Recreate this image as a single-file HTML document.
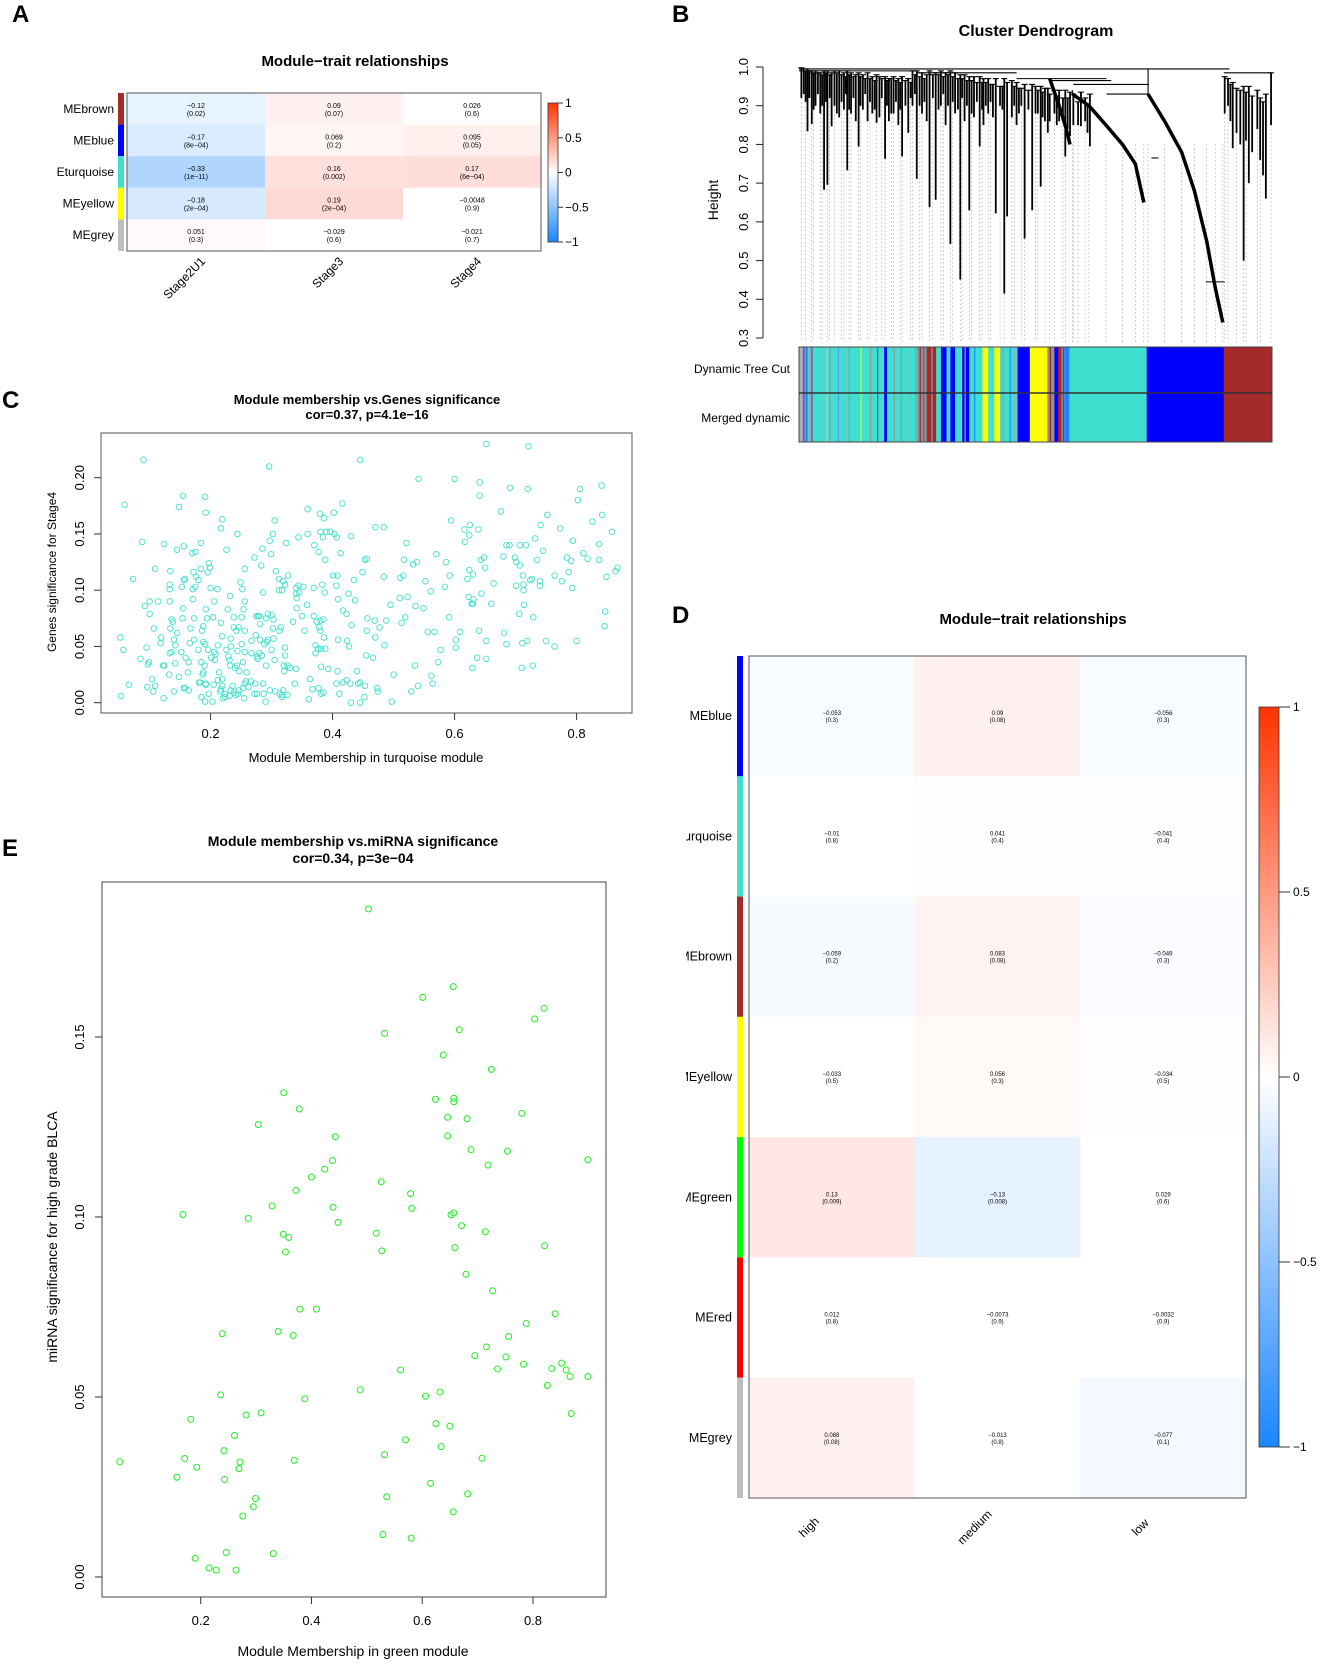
<!DOCTYPE html>
<html><head><meta charset="utf-8"><style>
html,body{margin:0;padding:0;background:#fff;}
svg{display:block;font-family:"Liberation Sans",Arial,sans-serif;}
</style></head><body>
<svg id="fig" xmlns="http://www.w3.org/2000/svg" width="1320" height="1664" viewBox="0 0 1320 1664">
<defs>
<linearGradient id="cbar" x1="0" y1="0" x2="0" y2="1">
<stop offset="0" stop-color="#ff3300"/><stop offset="0.5" stop-color="#ffffff"/><stop offset="1" stop-color="#1a86ff"/>
</linearGradient>
<clipPath id="clipA"><rect x="57" y="0" width="700" height="400"/></clipPath>
<clipPath id="clipD"><rect x="686" y="600" width="700" height="1000"/></clipPath>
</defs>
<g id="panelA"></g>
<g id="panelB"></g>
<g id="panelC"></g>
<g id="panelD"></g>
<g id="panelE"></g>
</svg>
<script>
// ---------- Panel A data ----------
const aRows = ["MEbrown","MEblue","MEturquoise","MEyellow","MEgrey"];
const aRowColors = ["#a52a2a","#0000ff","#40e0d0","#ffff00","#bebebe"];
const aCols = ["Stage2U1","Stage3","Stage4"];
const aVals = [[-0.12,0.09,0.026],[-0.17,0.069,0.095],[-0.33,0.16,0.17],[-0.18,0.19,-0.0048],[0.051,-0.029,-0.021]];
const aP = [["(0.02)","(0.07)","(0.6)"],["(8e-04)","(0.2)","(0.05)"],["(1e-11)","(0.002)","(6e-04)"],["(2e-04)","(2e-04)","(0.9)"],["(0.3)","(0.6)","(0.7)"]];
const cbTicks = [1,0.5,0,-0.5,-1];
// ---------- Panel D data ----------
const dRows = ["MEblue","MEturquoise","MEbrown","MEyellow","MEgreen","MEred","MEgrey"];
const dRowColors = ["#0000ff","#40e0d0","#a52a2a","#ffff00","#00ff00","#ff0000","#bebebe"];
const dCols = ["high","medium","low"];
const dVals = [[-0.053,0.09,-0.056],[-0.01,0.041,-0.041],[-0.059,0.083,-0.049],[-0.033,0.056,-0.034],[0.13,-0.13,0.029],[0.012,-0.0073,-0.0032],[0.088,-0.013,-0.077]];
const dP = [["(0.3)","(0.08)","(0.3)"],["(0.8)","(0.4)","(0.4)"],["(0.2)","(0.08)","(0.3)"],["(0.5)","(0.3)","(0.5)"],["(0.009)","(0.008)","(0.6)"],["(0.8)","(0.9)","(0.9)"],["(0.08)","(0.8)","(0.1)"]];
// ---------- Panel B data ----------
const bTicks = [0.3,0.4,0.5,0.6,0.7,0.8,0.9,1.0];
const branchPos = [0.005,0.018,0.027,0.035,0.045,0.053,0.060,0.069,0.075,0.085,0.095,0.102,0.11,0.12,0.126,0.135,0.145,0.155,0.164,0.17,0.182,0.19,0.2,0.21,0.218,0.231,0.24,0.249,0.26,0.27,0.276,0.289,0.3,0.31,0.32,0.33,0.341,0.35,0.36,0.37,0.382,0.39,0.40,0.416,0.434,0.44,0.45,0.46,0.477,0.493,0.5,0.511,0.52,0.526,0.54,0.55,0.563,0.573,0.58,0.596,0.605,0.615,0.907,0.917,0.94,0.951,0.969,0.987,0.998,
 0.010,0.014,0.022,0.031,0.040,0.049,0.057,0.065,0.080,0.090,0.099,0.106,0.115,0.130,0.140,0.150,0.160,0.175,0.186,0.195,0.205,0.214,0.225,0.236,0.245,0.255,0.265,0.283,0.295,0.305,0.315,0.325,0.336,0.345,0.355,0.365,0.376,0.387,0.395,0.405,0.41,0.425,0.43,0.455,0.465,0.47,0.485,0.505,0.515,0.53,0.545,0.558,0.568,0.59,0.61,0.90,0.912,0.925,0.933,0.945,0.958,0.975,0.981];
const branchTop = [0.998,0.995,0.99,0.99,0.985,0.99,0.99,0.985,0.99,0.99,0.985,0.99,0.985,0.98,0.985,0.98,0.985,0.975,0.98,0.975,0.975,0.97,0.975,0.97,0.975,0.97,0.99,0.99,0.985,0.98,0.99,0.985,0.99,0.985,0.99,0.985,0.98,0.98,0.975,0.975,0.975,0.97,0.97,0.97,0.97,0.96,0.965,0.96,0.955,0.955,0.95,0.95,0.945,0.945,0.94,0.94,0.94,0.935,0.93,0.935,0.92,0.93,0.97,0.96,0.95,0.95,0.94,0.93,0.985,
 0.995,0.99,0.99,0.985,0.985,0.98,0.985,0.98,0.985,0.98,0.975,0.98,0.975,0.975,0.97,0.97,0.965,0.97,0.965,0.97,0.965,0.96,0.965,0.96,0.98,0.975,0.97,0.98,0.98,0.975,0.98,0.975,0.97,0.97,0.965,0.965,0.96,0.96,0.96,0.955,0.955,0.95,0.95,0.95,0.945,0.945,0.94,0.94,0.935,0.93,0.925,0.92,0.92,0.91,0.90,0.975,0.955,0.945,0.94,0.935,0.925,0.92,0.91];
const branchBottom = [0.92,0.834,0.853,0.90,0.88,0.683,0.696,0.847,0.90,0.87,0.89,0.733,0.88,0.86,0.795,0.89,0.86,0.88,0.856,0.87,0.763,0.86,0.88,0.85,0.769,0.83,0.90,0.711,0.88,0.86,0.638,0.657,0.90,0.85,0.543,0.88,0.451,0.86,0.63,0.87,0.795,0.85,0.88,0.622,0.415,0.614,0.87,0.85,0.557,0.63,0.88,0.691,0.86,0.83,0.88,0.86,0.769,0.821,0.85,0.847,0.86,0.795,0.90,0.79,0.50,0.70,0.84,0.66,0.85,
 0.93,0.91,0.92,0.89,0.93,0.90,0.91,0.92,0.88,0.91,0.93,0.89,0.92,0.90,0.93,0.91,0.89,0.92,0.90,0.88,0.91,0.89,0.90,0.92,0.93,0.90,0.91,0.92,0.89,0.93,0.90,0.91,0.89,0.92,0.90,0.88,0.91,0.89,0.90,0.91,0.87,0.90,0.89,0.90,0.88,0.90,0.89,0.88,0.87,0.86,0.85,0.86,0.84,0.85,0.83,0.88,0.86,0.83,0.80,0.81,0.78,0.76,0.72];
const mergeF1 = [0.0,0.0,0.25,0.46,0.53,0.58,0.65,0.898,0.745,0.86];
const mergeF2 = [0.91,0.25,0.46,0.65,0.66,0.74,0.74,0.999,0.76,0.90];
const mergeH = [0.995,0.99,0.985,0.97,0.965,0.955,0.93,0.985,0.765,0.445];
const diagAF = [0.578,0.613,0.649,0.684,0.711,0.729];
const diagAH = [0.93,0.90,0.85,0.80,0.75,0.65];
const diagBF = [0.738,0.773,0.809,0.836,0.862,0.88,0.896];
const diagBH = [0.93,0.86,0.78,0.68,0.55,0.43,0.34];
const diagCF = [0.53,0.55,0.565,0.573];
const diagCH = [0.97,0.90,0.84,0.80];
const colorSegStart = [0,0.008,0.018,0.022,0.03,0.045,0.07,0.075,0.12,0.14,0.18,0.186,0.25,0.27,0.29,0.30,0.312,0.32,0.33,0.345,0.36,0.388,0.40,0.413,0.425,0.436,0.462,0.488,0.50,0.525,0.54,0.548,0.56,0.572,0.58,0.735,0.898];
const colorSegEnd   = [0.008,0.018,0.022,0.03,0.045,0.07,0.075,0.12,0.14,0.18,0.186,0.25,0.27,0.29,0.30,0.312,0.32,0.33,0.345,0.36,0.388,0.40,0.413,0.425,0.436,0.462,0.488,0.50,0.525,0.54,0.548,0.56,0.572,0.58,0.735,0.898,1.0];
const colorSegCol = ["#b0b0b0","#4169e1","#40e0d0","#a0a0a0","#40e0d0","#40e0d0","#40e0d0","#40e0d0","#40e0d0","#40e0d0","#0000ff","#40e0d0","#909090","#a52a2a","#40e0d0","#0000ff","#40e0d0","#0000ff","#40e0d0","#0000ff","#40e0d0","#ffff00","#40e0d0","#ffff00","#40e0d0","#40e0d0","#0000ff","#ffff00","#ffff00","#909090","#0000ff","#a52a2a","#1e90ff","#40e0d0","#40e0d0","#0000ff","#a52a2a"];
const stripePos = [0.012,0.026,0.05,0.058,0.064,0.082,0.093,0.105,0.13,0.15,0.165,0.2,0.215,0.232,0.245,0.255,0.262,0.28,0.283,0.35,0.37,0.43,0.445,0.455,0.53,0.555,0.565];
const stripeCol = ["#999","#4169e1","#aaa","#b0c4de","#999","#6495ed","#aaa","#999","#adff2f","#999","#4169e1","#999","#999","#aaa","#999","#a52a2a","#4169e1","#999","#a52a2a","#999","#1e90ff","#999","#1e90ff","#aaa","#a52a2a","#999","#4169e1"];
// ---------- Panel C data ----------
const cMM = [0.652,0.721,0.090,0.445,0.296,0.541,0.600,0.641,0.691,0.720,0.806,0.841,0.155,0.191,0.641,0.802,0.059,0.416,0.148,0.359,0.676,0.402,0.192,0.379,0.386,0.752,0.842,0.219,0.305,0.594,0.826,0.625,0.741,0.616,0.639,0.773,0.858,0.470,0.484,0.217,0.380,0.390,0.396,0.403,0.359,0.244,0.302,0.624,0.430,0.344,0.407,0.384,0.732,0.088,0.124,0.184,0.297,0.324,0.521,0.617,0.794,0.837,0.145,0.156,0.226,0.370,0.685,0.690,0.707,0.717,0.745,0.170,0.175,0.285,0.377,0.413,0.570,0.680,0.811,0.299,0.648,0.784,0.818,0.272,0.388,0.453,0.456,0.517,0.643,0.699,0.701,0.735,0.791,0.837,0.197,0.538,0.532,0.586,0.707,0.283,0.650,0.867,0.864,0.787,0.109,0.184,0.256,0.199,0.195,0.134,0.307,0.449,0.624,0.630,0.172,0.327,0.592,0.073,0.156,0.158,0.176,0.180,0.312,0.401,0.408,0.435,0.484,0.511,0.516,0.621,0.764,0.849,0.724,0.740,0.727,0.776,0.249,0.319,0.712,0.552,0.133,0.133,0.153,0.175,0.171,0.200,0.211,0.252,0.322,0.340,0.344,0.352,0.369,0.383,0.406,0.584,0.664,0.701,0.713,0.740,0.713,0.793,0.312,0.317,0.286,0.387,0.426,0.561,0.232,0.171,0.340,0.345,0.644,0.523,0.510,0.623,0.409,0.437,0.100,0.114,0.133,0.206,0.256,0.341,0.631,0.630,0.628,0.495,0.536,0.660,0.714,0.092,0.155,0.192,0.228,0.254,0.294,0.341,0.358,0.417,0.549,0.423,0.100,0.275,0.278,0.280,0.300,0.303,0.291,0.350,0.369,0.380,0.385,0.374,0.457,0.469,0.488,0.519,0.591,0.706,0.729,0.847,0.136,0.154,0.173,0.194,0.204,0.238,0.251,0.138,0.217,0.281,0.335,0.513,0.431,0.846,0.107,0.134,0.167,0.188,0.238,0.246,0.242,0.256,0.302,0.315,0.313,0.354,0.378,0.380,0.456,0.477,0.556,0.567,0.609,0.640,0.681,0.186,0.145,0.052,0.119,0.140,0.166,0.173,0.219,0.233,0.274,0.281,0.294,0.303,0.267,0.386,0.409,0.424,0.470,0.602,0.652,0.719,0.750,0.800,0.118,0.142,0.095,0.188,0.191,0.212,0.233,0.251,0.288,0.292,0.322,0.372,0.376,0.381,0.388,0.427,0.485,0.602,0.685,0.711,0.764,0.057,0.133,0.136,0.152,0.180,0.196,0.206,0.208,0.226,0.244,0.256,0.267,0.276,0.280,0.284,0.300,0.322,0.372,0.577,0.201,0.159,0.229,0.164,0.185,0.207,0.231,0.243,0.253,0.277,0.291,0.305,0.455,0.466,0.637,0.652,0.085,0.099,0.097,0.124,0.122,0.142,0.190,0.232,0.240,0.320,0.326,0.330,0.340,0.381,0.393,0.535,0.573,0.629,0.710,0.728,0.132,0.148,0.163,0.187,0.188,0.214,0.247,0.259,0.321,0.408,0.440,0.500,0.562,0.104,0.183,0.192,0.192,0.205,0.212,0.219,0.219,0.236,0.256,0.258,0.266,0.273,0.286,0.338,0.363,0.406,0.417,0.423,0.429,0.442,0.445,0.453,0.564,0.066,0.096,0.109,0.158,0.164,0.181,0.217,0.233,0.246,0.253,0.262,0.297,0.306,0.319,0.367,0.377,0.385,0.381,0.411,0.473,0.474,0.529,0.540,0.106,0.140,0.156,0.197,0.216,0.224,0.231,0.238,0.245,0.272,0.276,0.287,0.313,0.317,0.326,0.053,0.123,0.185,0.220,0.224,0.241,0.255,0.361,0.317,0.191,0.203,0.290,0.430,0.445,0.452,0.497];
const cGS = [0.230,0.228,0.216,0.216,0.210,0.199,0.199,0.196,0.191,0.190,0.190,0.193,0.184,0.183,0.184,0.180,0.176,0.177,0.174,0.172,0.170,0.169,0.169,0.168,0.164,0.167,0.167,0.163,0.162,0.162,0.161,0.158,0.158,0.154,0.154,0.155,0.152,0.156,0.156,0.155,0.152,0.152,0.152,0.150,0.150,0.150,0.150,0.149,0.148,0.147,0.147,0.147,0.146,0.143,0.141,0.142,0.144,0.142,0.142,0.143,0.144,0.141,0.136,0.139,0.136,0.140,0.140,0.140,0.140,0.140,0.135,0.133,0.134,0.137,0.134,0.133,0.132,0.130,0.133,0.132,0.129,0.129,0.128,0.129,0.127,0.127,0.128,0.127,0.127,0.129,0.125,0.127,0.126,0.127,0.124,0.125,0.123,0.125,0.122,0.122,0.120,0.120,0.117,0.116,0.119,0.119,0.119,0.120,0.116,0.117,0.117,0.116,0.118,0.114,0.116,0.113,0.113,0.110,0.109,0.110,0.112,0.109,0.110,0.113,0.113,0.109,0.112,0.111,0.113,0.110,0.113,0.112,0.109,0.108,0.110,0.108,0.107,0.108,0.113,0.108,0.105,0.101,0.103,0.103,0.101,0.102,0.101,0.101,0.105,0.102,0.104,0.103,0.102,0.105,0.104,0.103,0.106,0.104,0.105,0.104,0.100,0.102,0.100,0.100,0.098,0.098,0.097,0.099,0.095,0.092,0.097,0.098,0.097,0.094,0.093,0.094,0.092,0.091,0.090,0.090,0.090,0.090,0.090,0.093,0.092,0.088,0.088,0.087,0.086,0.088,0.087,0.086,0.084,0.083,0.083,0.083,0.079,0.084,0.087,0.082,0.084,0.079,0.079,0.077,0.077,0.077,0.078,0.074,0.075,0.077,0.077,0.073,0.074,0.072,0.075,0.073,0.073,0.076,0.076,0.079,0.076,0.081,0.074,0.075,0.075,0.075,0.076,0.076,0.076,0.072,0.071,0.070,0.072,0.071,0.069,0.068,0.066,0.066,0.066,0.068,0.067,0.067,0.064,0.064,0.066,0.067,0.064,0.064,0.067,0.064,0.064,0.067,0.063,0.063,0.063,0.064,0.062,0.064,0.062,0.058,0.058,0.056,0.053,0.056,0.059,0.057,0.060,0.056,0.056,0.057,0.055,0.058,0.056,0.055,0.058,0.056,0.055,0.055,0.055,0.055,0.053,0.051,0.049,0.054,0.052,0.051,0.050,0.052,0.052,0.054,0.049,0.051,0.048,0.048,0.048,0.050,0.051,0.049,0.052,0.053,0.050,0.047,0.044,0.045,0.045,0.047,0.047,0.045,0.043,0.047,0.046,0.045,0.044,0.041,0.044,0.042,0.047,0.042,0.044,0.047,0.040,0.040,0.041,0.036,0.036,0.038,0.038,0.033,0.036,0.039,0.033,0.038,0.042,0.040,0.040,0.039,0.039,0.036,0.034,0.033,0.033,0.035,0.033,0.033,0.031,0.033,0.033,0.031,0.030,0.032,0.030,0.033,0.036,0.031,0.031,0.033,0.025,0.023,0.027,0.025,0.027,0.027,0.028,0.027,0.028,0.028,0.028,0.025,0.024,0.021,0.018,0.017,0.016,0.016,0.020,0.021,0.015,0.015,0.017,0.019,0.019,0.017,0.017,0.017,0.021,0.017,0.018,0.020,0.017,0.017,0.018,0.015,0.017,0.016,0.014,0.015,0.013,0.011,0.018,0.012,0.011,0.011,0.013,0.014,0.011,0.010,0.011,0.012,0.013,0.009,0.008,0.008,0.013,0.010,0.010,0.015,0.010,0.010,0.013,0.008,0.010,0.008,0.006,0.009,0.008,0.008,0.008,0.008,0.008,0.007,0.007,0.006,0.004,0.005,0.004,0.005,0.007,0.004,0.003,0.005,0.001,0.001,0.001,0.000,0.000,0.005,0.001];
const cXTicks = [0.2,0.4,0.6,0.8];
const cYTicks = [0.00,0.05,0.10,0.15,0.20];
// ---------- Panel E data ----------
const eMM = [0.503,0.656,0.601,0.820,0.803,0.532,0.667,0.638,0.725,0.350,0.378,0.304,0.624,0.657,0.657,0.646,0.681,0.780,0.443,0.646,0.688,0.754,0.899,0.719,0.438,0.424,0.400,0.526,0.372,0.579,0.329,0.439,0.581,0.168,0.286,0.657,0.652,0.448,0.671,0.714,0.517,0.349,0.359,0.353,0.527,0.659,0.821,0.679,0.727,0.379,0.409,0.840,0.788,0.239,0.340,0.367,0.756,0.716,0.695,0.751,0.783,0.561,0.736,0.834,0.852,0.860,0.867,0.899,0.826,0.488,0.236,0.388,0.606,0.632,0.282,0.309,0.182,0.869,0.261,0.625,0.650,0.570,0.242,0.634,0.532,0.054,0.171,0.193,0.271,0.269,0.369,0.708,0.157,0.243,0.615,0.682,0.536,0.299,0.295,0.276,0.656,0.529,0.580,0.246,0.331,0.190,0.215,0.228,0.264];
const eSig = [0.1856,0.164,0.161,0.158,0.155,0.151,0.152,0.145,0.141,0.1345,0.130,0.1257,0.1327,0.133,0.132,0.1277,0.1273,0.1288,0.1223,0.1225,0.1187,0.1183,0.1159,0.1144,0.1157,0.1133,0.1111,0.1098,0.1074,0.1065,0.1031,0.1027,0.1024,0.1007,0.0996,0.1011,0.1006,0.0985,0.0976,0.0959,0.0955,0.0952,0.0943,0.0903,0.0906,0.0915,0.0920,0.0841,0.0795,0.0744,0.0744,0.0731,0.0704,0.0676,0.0682,0.0671,0.0668,0.0639,0.0615,0.0611,0.0591,0.0575,0.0578,0.0579,0.0594,0.0575,0.0557,0.0557,0.0532,0.0520,0.0506,0.0495,0.0502,0.0514,0.0450,0.0456,0.0438,0.0454,0.0393,0.0426,0.0419,0.0381,0.0351,0.0362,0.0340,0.0320,0.0329,0.0305,0.0319,0.0301,0.0324,0.0330,0.0277,0.0271,0.0260,0.0231,0.0223,0.0218,0.0195,0.0169,0.0181,0.0118,0.0108,0.0068,0.0065,0.0052,0.0025,0.0019,0.0019];
const eXTicks = [0.2,0.4,0.6,0.8];
const eYTicks = [0.00,0.05,0.10,0.15];

const NS = "http://www.w3.org/2000/svg";
function mk(parent, tag, attrs, txt){
  const el = document.createElementNS(NS, tag);
  for (const k in attrs) el.setAttribute(k, attrs[k]);
  if (txt !== undefined) el.textContent = txt;
  parent.appendChild(el);
  return el;
}
function fmt(v){ return String(v).replace('-', '\u2212'); }
function heatColor(v){
  let a = Math.max(0, Math.abs(v) - 0.03) * 1.15;
  let r,g,b;
  if (v >= 0){ r = 255; g = 255 - 205*a; b = 255 - 235*a; }
  else { r = 255 - 229*a; g = 255 - 120*a; b = 255; }
  return "rgb(" + Math.round(r) + "," + Math.round(g) + "," + Math.round(b) + ")";
}

// ===== Panel A =====
(function(){
  const g = document.getElementById('panelA');
  const L=127,R=541,T=93,B=251;
  const cw=(R-L)/aCols.length, rh=(B-T)/aRows.length;
  let t = mk(g,'text',{x:12,y:22,'font-size':24,'font-weight':'bold'},'A');
   
  t = mk(g,'text',{x:355,y:66,'font-size':15,'font-weight':'bold','text-anchor':'middle'},'Module\u2212trait relationships');
   
  const lab = mk(g,'g',{'clip-path':'url(#clipA)'});
  aRows.forEach((rn,i)=>{
    const y = T + i*rh;
    const s = mk(g,'rect',{x:118,y:y,width:6,height:rh,fill:aRowColors[i]});
     
    const l = mk(lab,'text',{x:114,y:y+rh/2+4,'font-size':12,'text-anchor':'end'},rn);
     
    aCols.forEach((cn,j)=>{
      const x = L + j*cw;
      const c = mk(g,'rect',{x:x,y:y,width:cw,height:rh,fill:heatColor(aVals[i][j])});
       
      const v = mk(g,'text',{x:x+cw/2,y:y+rh/2-1,'font-size':7,'text-anchor':'middle'},fmt(aVals[i][j]));
       
      const p = mk(g,'text',{x:x+cw/2,y:y+rh/2+7,'font-size':7,'text-anchor':'middle'},fmt(aP[i][j]));
       
    });
  });
  const fr = mk(g,'rect',{x:L,y:T,width:R-L,height:B-T,fill:'none',stroke:'#555','stroke-width':1});
   
  aCols.forEach((cn,j)=>{
    const x = L + j*cw + cw/2 + 10, y = 262;
    const tx = mk(g,'text',{x:x,y:y,'font-size':12,'text-anchor':'end',transform:'rotate(-45 '+x+' '+y+')'},cn);
     
  });
  const cbT=103,cbB=242;
  const cb = mk(g,'rect',{x:548,y:cbT,width:10,height:cbB-cbT,fill:'url(#cbar)',stroke:'#333','stroke-width':0.8});
   
  cbTicks.forEach(v=>{
    const y = cbT + (1-v)/2*(cbB-cbT);
    mk(g,'line',{x1:558,x2:563,y1:y,y2:y,stroke:'#333'});
    const tl = mk(g,'text',{x:565,y:y+4,'font-size':12},fmt(v));
     
  });
})();

// ===== Panel B =====
(function(){
  const g = document.getElementById('panelB');
  const X0=799, W=473;
  const yh = h => 67 + (1-h)*(271/0.7);
  const xf = f => X0 + f*W;
  let t = mk(g,'text',{x:672,y:22,'font-size':24,'font-weight':'bold'},'B');
   
  t = mk(g,'text',{x:1036,y:36,'font-size':16,'font-weight':'bold','text-anchor':'middle'},'Cluster Dendrogram');
   
  mk(g,'line',{x1:763,x2:763,y1:yh(1.0),y2:yh(0.3),stroke:'#222'});
  bTicks.forEach(v=>{
    const y=yh(v);
    mk(g,'line',{x1:756,x2:763,y1:y,y2:y,stroke:'#222'});
    const tl = mk(g,'text',{x:748,y:y,'font-size':13,'text-anchor':'middle',transform:'rotate(-90 748 '+y+')'},v.toFixed(1));
     
  });
  t = mk(g,'text',{x:718,y:200,'font-size':14,'text-anchor':'middle',transform:'rotate(-90 718 200)'},'Height');
   
  const dots = mk(g,'g',{stroke:'#999','stroke-width':0.6,'stroke-dasharray':'1.5,2.5'});
  branchPos.forEach((f,i)=>{ if (i%2===0) mk(dots,'line',{x1:xf(f),x2:xf(f),y1:yh(branchBottom[i]),y2:yh(0.29)}); });
  diagAF.concat(diagBF).forEach((f,i)=>{ mk(dots,'line',{x1:xf(f),x2:xf(f),y1:yh(0.8),y2:yh(0.29)}); });
  const tree = mk(g,'g',{stroke:'#000','stroke-width':1.1,fill:'none'});
   
  mergeF1.forEach((f,i)=>{ mk(tree,'line',{x1:xf(f),x2:xf(mergeF2[i]),y1:yh(mergeH[i]),y2:yh(mergeH[i])}); });
  branchPos.forEach((f,i)=>{
    mk(tree,'line',{x1:xf(f),x2:xf(f),y1:yh(branchTop[i]),y2:yh(branchBottom[i]),'stroke-width':1.8});
    mk(tree,'line',{x1:xf(f)-3,x2:xf(f)+3,y1:yh(branchTop[i]),y2:yh(branchTop[i])});
  });
  mk(tree,'polyline',{points:diagAF.map((f,i)=>xf(f)+','+yh(diagAH[i])).join(' '),'stroke-width':3.5});
  mk(tree,'polyline',{points:diagBF.map((f,i)=>xf(f)+','+yh(diagBH[i])).join(' '),'stroke-width':3.5});
  mk(tree,'polyline',{points:diagCF.map((f,i)=>xf(f)+','+yh(diagCH[i])).join(' '),'stroke-width':3.5});
  mk(tree,'line',{x1:xf(diagBF[0]),x2:xf(diagBF[0]),y1:yh(0.995),y2:yh(diagBH[0])});
  mk(tree,'line',{x1:xf(diagAF[0]),x2:xf(diagAF[0]),y1:yh(0.94),y2:yh(diagAH[0])});
  const cbg = mk(g,'g',{});
   
  colorSegStart.forEach((s,i)=>{
    mk(cbg,'rect',{x:xf(s),y:347,width:xf(colorSegEnd[i])-xf(s)+0.3,height:95,fill:colorSegCol[i]});
  });
  stripePos.forEach((s,i)=>{
    mk(cbg,'rect',{x:xf(s),y:347,width:1.3,height:95,fill:stripeCol[i]});
  });
  mk(g,'rect',{x:X0,y:347,width:W,height:95,fill:'none',stroke:'#444','stroke-width':1});
  mk(g,'line',{x1:X0,x2:X0+W,y1:393,y2:393,stroke:'#333','stroke-width':1.5});
  t = mk(g,'text',{x:790,y:373,'font-size':12,'text-anchor':'end'},'Dynamic Tree Cut');
   
  t = mk(g,'text',{x:790,y:422,'font-size':12,'text-anchor':'end'},'Merged dynamic');
   
})();

// ===== Panel C =====
(function(){
  const g = document.getElementById('panelC');
  const L=101,R=632,T=433,B=713;
  const xs = v => 210.6 + (v-0.2)*610;
  const ys = v => 702.7 - v*1125;
  let t = mk(g,'text',{x:2,y:408,'font-size':24,'font-weight':'bold'},'C');
   
  t = mk(g,'text',{x:367,y:404,'font-size':13,'font-weight':'bold','text-anchor':'middle'},'Module membership vs.Genes significance');
   
  t = mk(g,'text',{x:367,y:419,'font-size':13,'font-weight':'bold','text-anchor':'middle'},'cor=0.37, p=4.1e\u221216');
   
  const pts = mk(g,'g',{fill:'none',stroke:'#40e0d0','stroke-width':0.9});
   
  cMM.forEach((v,i)=>{
    const c = mk(pts,'circle',{cx:xs(v),cy:ys(cGS[i]),r:2.8});
     
  });
  const fr = mk(g,'rect',{x:L,y:T,width:R-L,height:B-T,fill:'none',stroke:'#555','stroke-width':1});
   
  cXTicks.forEach(v=>{
    const x=xs(v);
    mk(g,'line',{x1:x,x2:x,y1:B,y2:B+7,stroke:'#333'});
    const tl = mk(g,'text',{x:x,y:B+25,'font-size':13,'text-anchor':'middle'},v.toFixed(1));
     
  });
  cYTicks.forEach(v=>{
    const y=ys(v);
    mk(g,'line',{x1:L-7,x2:L,y1:y,y2:y,stroke:'#333'});
    const tl = mk(g,'text',{x:84,y:y,'font-size':13,'text-anchor':'middle',transform:'rotate(-90 84 '+y+')'},v.toFixed(2));
     
  });
  t = mk(g,'text',{x:366,y:762,'font-size':13,'text-anchor':'middle'},'Module Membership in turquoise module');
   
  t = mk(g,'text',{x:56,y:572,'font-size':12,'text-anchor':'middle',transform:'rotate(-90 56 572)'},'Genes significance for Stage4');
   
})();

// ===== Panel D =====
(function(){
  const g = document.getElementById('panelD');
  const L=749,R=1246,T=656,B=1498;
  const cw=(R-L)/dCols.length, rh=(B-T)/dRows.length;
  let t = mk(g,'text',{x:672,y:623,'font-size':24,'font-weight':'bold'},'D');
   
  t = mk(g,'text',{x:1033,y:624,'font-size':15,'font-weight':'bold','text-anchor':'middle'},'Module\u2212trait relationships');
   
  const lab = mk(g,'g',{'clip-path':'url(#clipD)'});
  dRows.forEach((rn,i)=>{
    const y = T + i*rh;
    const s = mk(g,'rect',{x:737,y:y,width:6,height:rh,fill:dRowColors[i]});
     
    const l = mk(lab,'text',{x:732,y:y+rh/2+4,'font-size':12.5,'text-anchor':'end'},rn);
     
    dCols.forEach((cn,j)=>{
      const x = L + j*cw;
      const c = mk(g,'rect',{x:x,y:y,width:cw+0.3,height:rh+0.3,fill:heatColor(dVals[i][j])});
       
      const v = mk(g,'text',{x:x+cw/2,y:y+rh/2-1,'font-size':6,'text-anchor':'middle'},fmt(dVals[i][j]));
       
      const p = mk(g,'text',{x:x+cw/2,y:y+rh/2+6,'font-size':6,'text-anchor':'middle'},fmt(dP[i][j]));
       
    });
  });
  const fr = mk(g,'rect',{x:L,y:T,width:R-L,height:B-T,fill:'none',stroke:'#555','stroke-width':1});
   
  dCols.forEach((cn,j)=>{
    const x = L + j*cw + cw/2 - 20, y = 1530;
    const tx = mk(g,'text',{x:x,y:y,'font-size':12,'text-anchor':'middle',transform:'rotate(-45 '+x+' '+y+')'},cn);
     
  });
  const cbT=707,cbB=1447;
  const cb = mk(g,'rect',{x:1259,y:cbT,width:20,height:cbB-cbT,fill:'url(#cbar)',stroke:'#333','stroke-width':0.8});
   
  cbTicks.forEach(v=>{
    const y = cbT + (1-v)/2*(cbB-cbT);
    mk(g,'line',{x1:1279,x2:1290,y1:y,y2:y,stroke:'#333'});
    const tl = mk(g,'text',{x:1293,y:y+4,'font-size':12},fmt(v));
     
  });
})();

// ===== Panel E =====
(function(){
  const g = document.getElementById('panelE');
  const L=102,R=606,T=882,B=1597;
  const xs = v => 200.7 + (v-0.2)*553.8;
  const ys = v => 1577 - v*3600;
  let t = mk(g,'text',{x:2,y:856,'font-size':24,'font-weight':'bold'},'E');
   
  t = mk(g,'text',{x:353,y:846,'font-size':14,'font-weight':'bold','text-anchor':'middle'},'Module membership vs.miRNA significance');
   
  t = mk(g,'text',{x:353,y:863,'font-size':14,'font-weight':'bold','text-anchor':'middle'},'cor=0.34, p=3e\u221204');
   
  const pts = mk(g,'g',{fill:'none',stroke:'#22ee22','stroke-width':1});
   
  eMM.forEach((v,i)=>{
    const c = mk(pts,'circle',{cx:xs(v),cy:ys(eSig[i]),r:3});
     
  });
  const fr = mk(g,'rect',{x:L,y:T,width:R-L,height:B-T,fill:'none',stroke:'#444','stroke-width':1});
   
  eXTicks.forEach(v=>{
    const x=xs(v);
    mk(g,'line',{x1:x,x2:x,y1:B,y2:B+7,stroke:'#333'});
    const tl = mk(g,'text',{x:x,y:B+28,'font-size':13,'text-anchor':'middle'},v.toFixed(1));
     
  });
  eYTicks.forEach(v=>{
    const y=ys(v);
    mk(g,'line',{x1:L-7,x2:L,y1:y,y2:y,stroke:'#333'});
    const tl = mk(g,'text',{x:84,y:y,'font-size':13,'text-anchor':'middle',transform:'rotate(-90 84 '+y+')'},v.toFixed(2));
     
  });
  t = mk(g,'text',{x:353,y:1656,'font-size':14,'text-anchor':'middle'},'Module Membership in green module');
   
  t = mk(g,'text',{x:57,y:1237,'font-size':14,'text-anchor':'middle',transform:'rotate(-90 57 1237)'},'miRNA significance for high grade BLCA');
   
})();
</script>
</body></html>
